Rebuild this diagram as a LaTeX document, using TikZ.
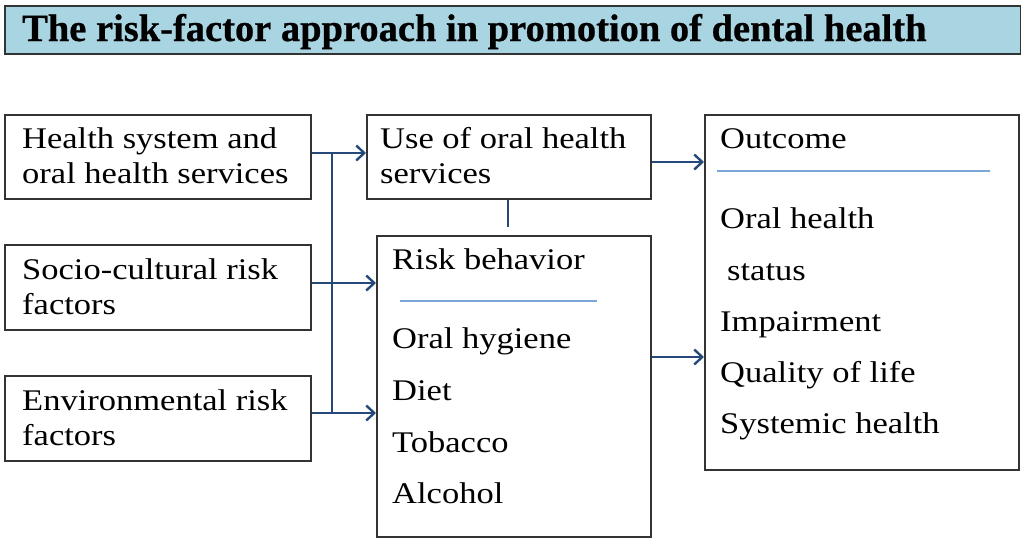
\documentclass[tikz,border=0pt]{standalone}
\usepackage{fontspec}
\setmainfont[FakeStretch=1.15]{Liberation Serif}
\newfontfamily\titlefont[FakeBold=0.6]{Liberation Serif}
\usetikzlibrary{arrows.meta}
\definecolor{titlefill}{HTML}{A9D4E1}
\definecolor{boxline}{HTML}{333333}
\definecolor{connblue}{HTML}{24497A}
\definecolor{seplight}{HTML}{7AA7DA}
\tikzset{
  box/.style={draw=boxline, line width=2pt, fill=white, inner sep=0pt},
  txt/.style={anchor=base west, inner sep=0pt, font=\fontsize{30}{35}\selectfont},
  conn/.style={draw=connblue, line width=2.6pt},
  arr/.style={conn, -{Straight Barb[length=8pt,width=15pt,line width=2.4pt]}},
  sep/.style={draw=seplight, line width=1.2pt},
}
\begin{document}
\begin{tikzpicture}[x=1pt,y=-1pt]
\useasboundingbox (0,0) rectangle (1021,539);
% title
\node[box, fill=titlefill, minimum width=1016pt, minimum height=48pt, anchor=north west] (title) at (4,5) {};
\node[anchor=base west, inner sep=0pt, font=\titlefont\bfseries\fontsize{38.5}{40}\selectfont] (titletext) at (22,41) {The risk-factor approach in promotion of dental health};
% boxes
\node[box, minimum width=306pt, minimum height=84pt] (b1) at (158,157) {};
\node[box, minimum width=306pt, minimum height=85pt] (b2) at (158,287.5) {};
\node[box, minimum width=306pt, minimum height=85pt] (b3) at (158,418.5) {};
\node[box, minimum width=284pt, minimum height=84pt] (use) at (509,157) {};
\node[box, minimum width=274pt, minimum height=301pt] (risk) at (514,386.5) {};
\node[box, minimum width=314pt, minimum height=355pt] (out) at (862,292.5) {};
% texts
\node[txt] (t1a) at (22,148) {Health system\ and};
\node[txt] (t1b) at (22,183) {oral health services};
\node[txt] (t2a) at (22,279) {Socio-cultural risk};
\node[txt] (t2b) at (22,314) {factors};
\node[txt] (t3a) at (22,410) {Environmental risk};
\node[txt] (t3b) at (22,445) {factors};
\node[txt] (tu1) at (380,148) {Use of oral health};
\node[txt] (tu2) at (380,183) {services};
\node[txt] (tr0) at (392,269) {Risk behavior};
\node[txt] (tr1) at (392,348) {Oral hygiene};
\node[txt] (tr2) at (392,400) {Diet};
\node[txt] (tr3) at (392,452) {Tobacco};
\node[txt] (tr4) at (392,503) {Alcohol};
\node[txt] (to0) at (720,148) {Outcome};
\node[txt] (to1) at (720,228) {Oral health};
\node[txt] (to2) at (727,280) {status};
\node[txt] (to3) at (720,331) {Impairment};
\node[txt] (to4) at (720,382) {Quality of life};
\node[txt] (to5) at (720,433) {Systemic health};
% separators
\coordinate (rs1) at (400,301);
\coordinate (rs2) at (597,301);
\coordinate (os1) at (717,171);
\coordinate (os2) at (990,171);
\draw[sep] (rs1) -- (rs2);
\draw[sep] (os1) -- (os2);
% connectors
\coordinate (j1) at (332,153);
\coordinate (j3) at (332,413);
\coordinate (ul) at (508,227);
\draw[conn] (j1) -- (j3);
\draw[arr] (b1.east |- j1) -- (use.west |- j1);
\draw[arr] (b2.east |- 0,283) -- (risk.west |- 0,283);
\draw[arr] (b3.east |- j3) -- (risk.west |- j3);
\draw[conn] (use.south -| ul) -- (ul);
\draw[arr] (use.east |- 0,162) -- (out.west |- 0,162);
\draw[arr] (risk.east |- 0,357) -- (out.west |- 0,357);
\end{tikzpicture}
\end{document}
